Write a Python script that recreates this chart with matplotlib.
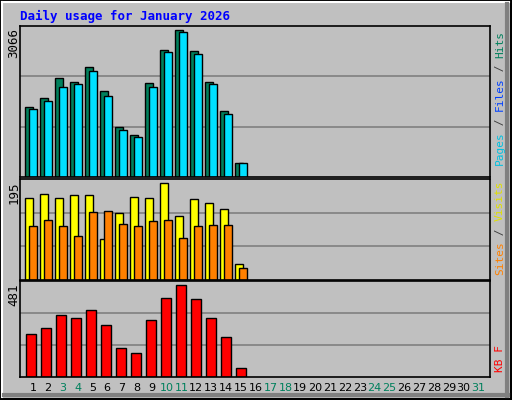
import matplotlib
matplotlib.use("Agg")
import matplotlib.pyplot as plt
from matplotlib.patches import Rectangle

days = list(range(1, 32))
hits = [1463, 1651, 2069, 1985, 2299, 1797, 1045, 878, 1965, 2654, 3066, 2633, 1985, 1379, 293]
files = [1421, 1588, 1881, 1944, 2215, 1693, 982, 836, 1881, 2612, 3030, 2571, 1944, 1317, 293]
visits = [165, 172, 165, 170, 170, 83, 134, 167, 165, 195, 129, 163, 155, 142, 32]
sites = [108, 121, 108, 89, 136, 138, 112, 108, 119, 121, 85, 108, 110, 110, 25]
kbytes = [227, 254, 322, 307, 349, 270, 153, 127, 296, 412, 481, 407, 307, 211, 48]
weekend = [3, 4, 10, 11, 17, 18, 24, 25, 31]
title = "Daily usage for January 2026"

W, H = 512, 400
fig = plt.figure(figsize=(W/100, H/100), dpi=100)
fig.patch.set_facecolor("#c0c0c0")
mono = "DejaVu Sans Mono"

def fr(x0, y0, x1, y1):
    return [x0/W, 1 - y1/H, (x1-x0)/W, (y1-y0)/H]

bg = fig.add_axes([0, 0, 1, 1]); bg.set_xlim(0, W); bg.set_ylim(H, 0); bg.axis("off")
bg.add_patch(Rectangle((0, 0), W-1, H-1, fill=False, ec="black", lw=1.5))
bg.plot([2, W-3], [2, 2], color="white", lw=1.5)
bg.plot([2, 2], [2, H-3], color="white", lw=1.5)
bg.plot([4, W-4], [H-5, H-5], color="#808080", lw=3)
bg.plot([W-5, W-5], [4, H-4], color="#808080", lw=3)
bg.text(20, 16, title, color="#0000ff", fontsize=9, fontweight="bold", family=mono, va="center")

def rot_label(x, ybottom, pieces, size=8):
    cw = 0.602 * size * 100 / 72
    y = ybottom
    for txt, col in pieces:
        bg.text(x, y, txt, color=col, fontsize=size, family=mono, rotation=90, ha="center", va="bottom")
        y -= cw * len(txt)

def panel(y0, y1, vmax):
    ax = fig.add_axes(fr(20, y0, 490, y1))
    ax.set_facecolor("#c0c0c0")
    ax.set_xlim(20, 490)
    top = vmax * (y1 - y0) / (y1 - y0 - 4)
    ax.set_ylim(0, top)
    for f in (1/3, 2/3):
        ax.axhline(top*f, color="#808080", lw=1.2, zorder=0)
    ax.set_xticks([]); ax.set_yticks([])
    for s in ax.spines.values():
        s.set_color("black"); s.set_linewidth(1.2)
    bg.text(14, y0 + 2, str(vmax), rotation=90, ha="center", va="top", fontsize=9, family=mono)
    return ax

pos = [25 + 15*(d-1) for d in days[:len(hits)]]
a1 = panel(26, 177, max(hits))
a1.bar(pos, hits, width=8, align="edge", color="#00805c", ec="black", lw=1)
a1.bar([p+4 for p in pos], files, width=8, align="edge", color="#00e0ff", ec="black", lw=1)
a2 = panel(179, 280, max(visits))
a2.bar(pos, visits, width=8, align="edge", color="#ffff00", ec="black", lw=1)
a2.bar([p+4 for p in pos], sites, width=8, align="edge", color="#ff8000", ec="black", lw=1)
a3 = panel(281, 377, max(kbytes))
a3.bar([p+1 for p in pos], kbytes, width=10, align="edge", color="#ff0000", ec="black", lw=1)

for d in days:
    bg.text(33 + 14.85*(d-1), 388, str(d), ha="center", va="center", fontsize=8,
            color="#00805c" if d in weekend else "black")

rot_label(500, 165, [("Pages", "#00c0e0"), (" / ", "#404040"), ("Files", "#0040ff"), (" / ", "#404040"), ("Hits", "#00805c")])
rot_label(500, 275, [("Sites", "#ff8000"), (" / ", "#404040"), ("Visits", "#e0e000")])
rot_label(500, 372, [("KB F", "#ff0000")])

fig.savefig("out.png", dpi=100, facecolor=fig.get_facecolor())
